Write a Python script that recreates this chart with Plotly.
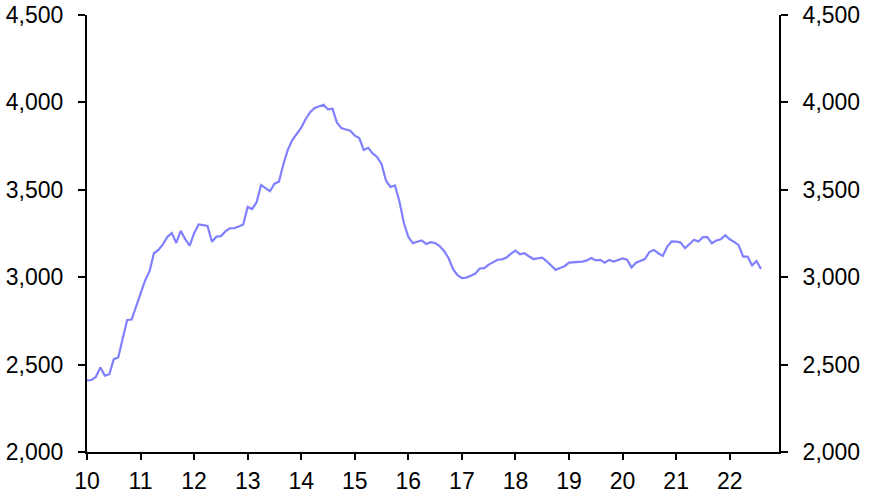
import plotly.graph_objects as go

start_year = 10  # Jan 2010
values = [
    2410, 2412, 2430, 2483, 2437, 2445, 2531, 2541, 2650, 2755, 2758, 2835,
    2905, 2980, 3033, 3137, 3156, 3188, 3230, 3252, 3196, 3265, 3218, 3180,
    3252, 3302, 3298, 3293, 3203, 3232, 3235, 3262, 3280, 3281, 3290, 3302,
    3402, 3390, 3429, 3527, 3510, 3492, 3535, 3546, 3646, 3730, 3785, 3820,
    3855, 3905, 3944, 3968, 3977, 3987, 3960, 3964, 3884, 3853, 3845, 3838,
    3810, 3796, 3728, 3740, 3708, 3688, 3646, 3552, 3516, 3525, 3433, 3310,
    3230, 3194, 3203, 3210, 3190, 3200, 3195, 3178, 3150, 3110, 3047, 3012,
    2995, 2998, 3008, 3021, 3050, 3052, 3072, 3085, 3100, 3102, 3112, 3135,
    3152, 3131, 3137, 3120, 3104, 3108, 3112, 3091, 3065, 3042, 3053, 3063,
    3083, 3085, 3088, 3089, 3096, 3110, 3096, 3099, 3083, 3099, 3090, 3099,
    3107, 3100, 3056, 3083, 3093, 3104, 3144, 3156, 3137, 3122, 3175, 3205,
    3204, 3198, 3166, 3189, 3214, 3204, 3229, 3229, 3194, 3210, 3217, 3240,
    3217, 3202, 3183, 3118, 3118, 3068, 3093, 3047,
]
x_vals = [start_year + i / 12 for i in range(len(values))]
x_ticks = list(range(10, 23))
x_labels = [str(t) for t in x_ticks]
y_ticks = [2000, 2500, 3000, 3500, 4000, 4500]
y_labels = ["2,000", "2,500", "3,000", "3,500", "4,000", "4,500"]

fig = go.Figure()
fig.add_trace(go.Scatter(x=x_vals, y=values, mode="lines",
                         line=dict(color="#8080ff", width=2.2),
                         showlegend=False, hoverinfo="skip"))
fig.add_trace(go.Scatter(x=x_vals, y=values, mode="lines", yaxis="y2",
                         line=dict(color="rgba(0,0,0,0)", width=0),
                         showlegend=False, hoverinfo="skip"))

font = dict(family="Liberation Sans, Arial, sans-serif", size=23, color="#000")
yax = dict(range=[2000, 4500], tickvals=y_ticks, ticktext=y_labels,
           showline=True, linecolor="#000", linewidth=2, ticks="outside",
           ticklen=7, tickwidth=2, tickcolor="#000", showgrid=False,
           zeroline=False, tickfont=font, automargin=False,
           ticklabelstandoff=10, ticklabeloverflow="allow")
fig.update_layout(
    width=884, height=498,
    margin=dict(l=87, r=105, t=15, b=46),
    paper_bgcolor="white", plot_bgcolor="white",
    xaxis=dict(range=[10, 22.92], tickvals=x_ticks, ticktext=x_labels,
               showline=True, linecolor="#000", linewidth=2, ticks="outside",
               ticklen=6, tickwidth=2, tickcolor="#000", showgrid=False,
               zeroline=False, tickfont=font, automargin=False,
               ticklabelstandoff=1, ticklabeloverflow="allow"),
    yaxis=yax,
    yaxis2=dict(yax, overlaying="y", side="right"),
)
fig.write_html("out.html",
               config={"displayModeBar": False, "staticPlot": True},
               post_script="document.body.style.margin='0';document.body.style.overflow='hidden';")
